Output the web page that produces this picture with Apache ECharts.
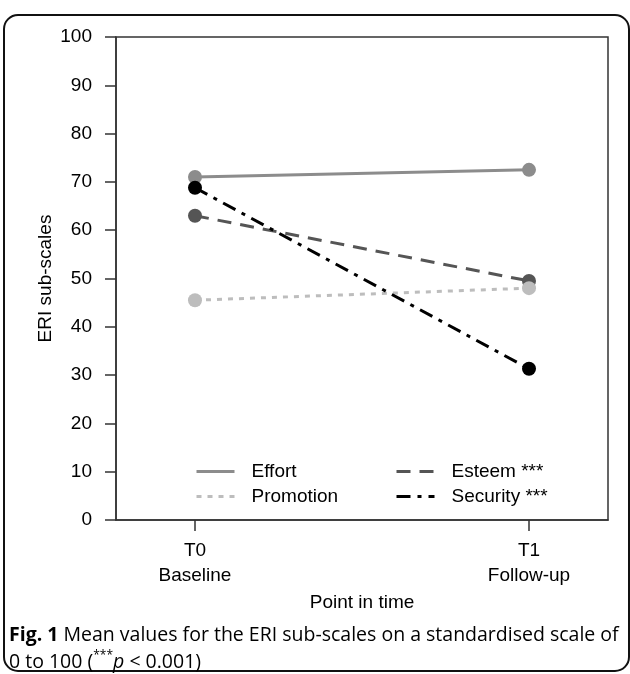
<!DOCTYPE html>
<html><head><meta charset="utf-8">
<script src="https://cdn.jsdelivr.net/npm/echarts@6/dist/echarts.min.js"></script>
<style>html,body{margin:0;padding:0;background:#fff}#c{width:630px;height:674px}</style>
</head><body><div id="c"></div>
<script>
// ---- data ----
const timeLabels = ['T0\nBaseline', 'T1\nFollow-up'];
const timeX = [0, 1];
const effort = [71.0, 72.5];
const esteem = [63.0, 49.5];
const promotion = [45.5, 48.0];
const security = [68.8, 31.3];
const yMin = 0, yMax = 100, yStep = 10;

const AX = 'Liberation Sans, Arial, sans-serif';
const CAP = 'Open Sans, Noto Sans, sans-serif';
const TXT = '#000';
const pts = arr => timeX.map((x, i) => [x, arr[i]]);

function lineSeries(name, arr, color, type, z) {
  return {
    name, type: 'line', data: pts(arr), z,
    symbol: 'circle', symbolSize: 14,
    itemStyle: { color },
    lineStyle: { color, width: 3, type },
    emphasis: { disabled: true },
    animation: false
  };
}

const legendBase = {
  orient: 'vertical', top: 462, itemWidth: 38, itemHeight: 14, itemGap: 6, padding: 0,
  selectedMode: false,
  textStyle: { fontSize: 19, fontFamily: AX, color: TXT, padding: [0, 0, 0, 12] },
  itemStyle: { opacity: 0, color: 'rgba(0,0,0,0)', borderWidth: 0 },
  lineStyle: { width: 3 }
};

const chart = echarts.init(document.getElementById('c'), null, { renderer: 'canvas' });
chart.setOption({
  backgroundColor: '#fff',
  animation: false,
  grid: { left: 116, right: 22, top: 37, bottom: 154, show: true, borderColor: '#333', borderWidth: 1.5, outerBoundsMode: 'none' },
  xAxis: {
    type: 'value', min: -0.2365, max: 1.2365,
    splitLine: { show: false },
    axisLine: { show: true, onZero: false, lineStyle: { color: '#333', width: 1.5 } },
    axisTick: { show: true, length: 11, customValues: timeX, lineStyle: { color: '#333', width: 1.5 } },
    axisLabel: { customValues: timeX, formatter: v => timeLabels[Math.round(v)], fontSize: 19, lineHeight: 25, margin: 18, color: TXT, fontFamily: AX },
    name: 'Point in time', nameLocation: 'middle', nameGap: 73, nameMoveOverlap: false,
    nameTextStyle: { fontSize: 19, color: TXT, fontFamily: AX }
  },
  yAxis: {
    type: 'value', min: yMin, max: yMax, interval: yStep,
    splitLine: { show: false },
    axisLine: { show: true, onZero: false, lineStyle: { color: '#333', width: 1.5 } },
    axisTick: { show: true, length: 11, lineStyle: { color: '#333', width: 1.5 } },
    axisLabel: { fontSize: 19, margin: 24, color: TXT, fontFamily: AX },
    name: 'ERI sub-scales', nameLocation: 'middle', nameGap: 61, nameMoveOverlap: false,
    nameTextStyle: { fontSize: 19, color: TXT, fontFamily: AX }
  },
  legend: [
    Object.assign({}, legendBase, { left: 195, data: ['Effort', 'Promotion'] }),
    Object.assign({}, legendBase, { left: 395, data: ['Esteem ***', 'Security ***'] })
  ],
  series: [
    lineSeries('Effort', effort, '#8c8c8c', 'solid', 2),
    lineSeries('Esteem ***', esteem, '#555555', [14, 9], 3),
    lineSeries('Promotion', promotion, '#bdbdbd', [5, 6], 4),
    lineSeries('Security ***', security, '#000000', [14, 7, 4, 7], 5)
  ],
  graphic: [
    { type: 'rect', silent: true, z: -10, shape: { x: 4, y: 15, width: 625, height: 656, r: 14 },
      style: { fill: 'none', stroke: '#111', lineWidth: 2 } },
    { type: 'text', silent: true, x: 9, y: 635,
      style: { text: '{b|Fig. 1} Mean values for the ERI sub-scales on a standardised scale of',
        fontSize: 19.5, fontFamily: CAP, fill: TXT, verticalAlign: 'middle',
        rich: { b: { fontSize: 19.5, fontFamily: CAP, fontWeight: 'bold', fill: TXT } } } },
    { type: 'text', silent: true, x: 9, y: 662,
      style: { text: '0 to 100 ({s|***}{i|p} < 0.001)',
        fontSize: 19.5, fontFamily: CAP, fill: TXT, verticalAlign: 'middle', lineHeight: 24,
        rich: { s: { fontSize: 12, fontFamily: CAP, fill: TXT, verticalAlign: 'top', lineHeight: 24 },
                i: { fontSize: 19.5, fontFamily: CAP, fontStyle: 'italic', fill: TXT, lineHeight: 24 } } } }
  ]
});
</script></body></html>
